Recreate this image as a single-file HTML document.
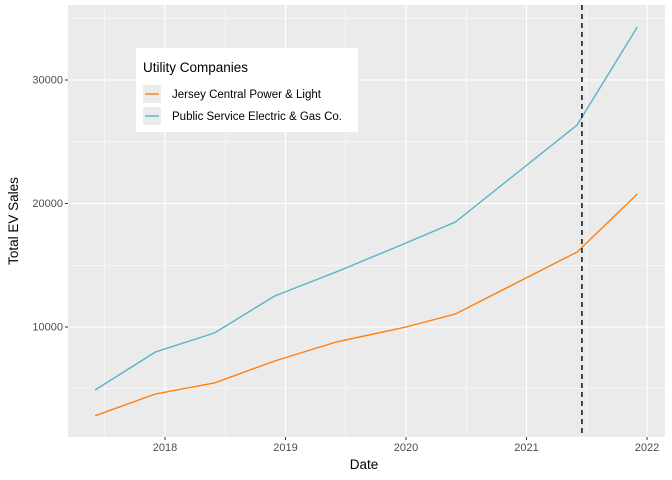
<!DOCTYPE html>
<html><head><meta charset="utf-8"><style>body{margin:0;background:#fff}svg{display:block;font-family:"Liberation Sans",sans-serif}</style></head>
<body>
<svg id="c" width="672" height="480"></svg>
<script>
const years = [2017.42,2017.92,2018.41,2018.91,2019.42,2020.0,2020.41,2021.42,2021.92];
const jcpl = [2818,4575,5466,7247,8785,10000,11053,16073,20769];
const pseg = [4899,7976,9514,12510,14453,16802,18502,26356,34291];
const xTicks = [2018,2019,2020,2021,2022];
const yTicks = [10000,20000,30000];
const cutoff = 2021.46;
const L=68,R=665,T=5,B=437;
const X=v=>165+(v-2018)*120.5;
const Y=v=>327-(v-10000)*0.01235;
const s=document.getElementById('c');
const NS='http://www.w3.org/2000/svg';
function mk(t,a,p){const e=document.createElementNS(NS,t);for(const k in a)e.setAttribute(k,a[k]);(p||s).appendChild(e);return e;}
let e=mk('rect',{x:L,y:T,width:R-L,height:B-T,fill:'#ebebeb'});


for(const v of [5000,15000,25000,35000]){e=mk('line',{x1:L,x2:R,y1:Y(v),y2:Y(v),stroke:'#fff','stroke-width':0.5});

}
for(const v of [2017.5,2018.5,2019.5,2020.5,2021.5]){e=mk('line',{y1:T,y2:B,x1:X(v),x2:X(v),stroke:'#fff','stroke-width':0.5});

}
for(const v of yTicks){e=mk('line',{x1:L,x2:R,y1:Y(v),y2:Y(v),stroke:'#fff','stroke-width':1.1});


mk('line',{x1:L-3,x2:L,y1:Y(v),y2:Y(v),stroke:'#333'});
e=mk('text',{x:L-5,y:Y(v)+3.5,'text-anchor':'end','font-size':'11',fill:'#4d4d4d'});e.textContent=v;

}
for(const v of xTicks){e=mk('line',{y1:T,y2:B,x1:X(v),x2:X(v),stroke:'#fff','stroke-width':1.1});


mk('line',{y1:B,y2:B+3,x1:X(v),x2:X(v),stroke:'#333'});
e=mk('text',{x:X(v),y:B+14,'text-anchor':'middle','font-size':'11',fill:'#4d4d4d'});e.textContent=v;

}
function line(d,c,n){e=mk('polyline',{points:d.map((v,i)=>X(years[i])+','+Y(v)).join(' '),fill:'none',stroke:c,'stroke-width':1.4});

}
line(jcpl,'#ff7f0e','jcpl-line');
line(pseg,'#56b4c8','pseg-line');
e=mk('line',{x1:X(cutoff),x2:X(cutoff),y1:T,y2:B,stroke:'#000','stroke-width':1.4,'stroke-dasharray':'5,4'});


e=mk('text',{x:364,y:469,'text-anchor':'middle','font-size':'13.5',fill:'#000'});e.textContent='Date';


e=mk('text',{x:0,y:0,transform:'translate(18,221) rotate(-90)','text-anchor':'middle','font-size':'13.5',fill:'#000'});e.textContent='Total EV Sales';


const g=mk('g',{});


mk('rect',{x:136,y:48,width:222,height:84,fill:'#fff'},g);
e=mk('text',{x:143,y:72,'font-size':'13.5',fill:'#000'},g);e.textContent='Utility Companies';


[['Jersey Central Power & Light','#ff7f0e',94],['Public Service Electric & Gas Co.','#56b4c8',116]].forEach(([t,c,y])=>{
mk('rect',{x:143,y:y-9,width:18,height:18,fill:'#ebebeb'},g);
mk('line',{x1:145,x2:159,y1:y,y2:y,stroke:c,'stroke-width':1.4},g);
e=mk('text',{x:172,y:y+4,'font-size':'11.5',fill:'#000'},g);e.textContent=t;

});
</script>
</body></html>
